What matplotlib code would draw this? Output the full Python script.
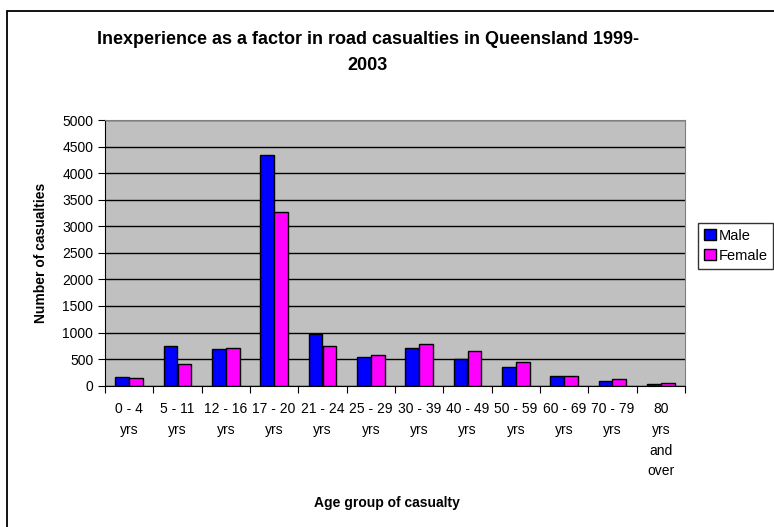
import numpy as np
import matplotlib
import matplotlib.pyplot as plt
from matplotlib.patches import Rectangle
matplotlib.use('Agg')

plt.rcParams['font.family'] = ['Liberation Sans', 'DejaVu Sans']

age_groups = ['0 - 4\nyrs', '5 - 11\nyrs', '12 - 16\nyrs', '17 - 20\nyrs', '21 - 24\nyrs',
              '25 - 29\nyrs', '30 - 39\nyrs', '40 - 49\nyrs', '50 - 59\nyrs', '60 - 69\nyrs',
              '70 - 79\nyrs', '80\nyrs\nand\nover']
male = [162, 756, 687, 4337, 975, 544, 710, 506, 361, 190, 82, 25]
female = [137, 400, 706, 3275, 756, 569, 791, 646, 437, 190, 120, 57]

fig = plt.figure(figsize=(7.74, 5.27), dpi=100)
ax = fig.add_axes([105 / 774, 1 - 385.7 / 527, 580 / 774, 265.7 / 527])

# outer chart border (right and bottom edges fall outside the image)
fig.patches.append(Rectangle((7 / 774, -0.1), 1.2, 1.1 - 11 / 527, transform=fig.transFigure,
                             fill=False, edgecolor='black', linewidth=1.3))

x = np.arange(len(age_groups))
w = 0.286
ax.bar(x - w / 2, male, w, color='#0000FF', edgecolor='black', linewidth=1, label='Male', zorder=3)
ax.bar(x + w / 2, female, w, color='#FF00FF', edgecolor='black', linewidth=1, label='Female', zorder=3)

ax.set_facecolor('#C0C0C0')
ax.set_xlim(-0.5, len(age_groups) - 0.5)
ax.set_ylim(0, 5000)
ax.set_yticks(np.arange(0, 5001, 500))
ax.yaxis.grid(True, color='black', linewidth=1)
ax.set_axisbelow(True)

# ticks sit between the groups, labels in the middle
ax.set_xticks(np.arange(-0.5, len(age_groups), 1))
ax.set_xticklabels([])
ax.set_xticks(x, minor=True)
ax.set_xticklabels(age_groups, minor=True, fontsize=10, linespacing=1.6, va='top')
ax.tick_params(axis='x', which='minor', length=0, pad=12)
ax.tick_params(axis='x', which='major', length=5, direction='out')
ax.tick_params(axis='y', length=5, direction='out', labelsize=10)

for s in ['top', 'right']:
    ax.spines[s].set_color('#808080')
for s in ['left', 'bottom']:
    ax.spines[s].set_color('black')

ax.set_ylabel('Number of casualties', fontsize=10, fontweight='bold', labelpad=10)
fig.text(0.5, 1 - 503 / 527, 'Age group of casualty', fontsize=10, fontweight='bold',
         ha='center', va='center')
fig.text(368 / 774, 1 - 40 / 527, 'Inexperience as a factor in road casualties in Queensland 1999-',
         fontsize=13, fontweight='bold', ha='center', va='center')
fig.text(368 / 774, 1 - 66 / 527, '2003', fontsize=13, fontweight='bold', ha='center', va='center')

leg = ax.legend(loc='upper left', bbox_to_anchor=(698 / 774, 1 - 223 / 527), bbox_transform=fig.transFigure,
                fontsize=10.5, frameon=True, fancybox=False, edgecolor='black', handlelength=0.8,
                handleheight=0.8, handletextpad=0.2, borderpad=0.4, labelspacing=0.4, borderaxespad=0)
leg.get_frame().set_linewidth(1)

plt.savefig('out.png', dpi=100)
